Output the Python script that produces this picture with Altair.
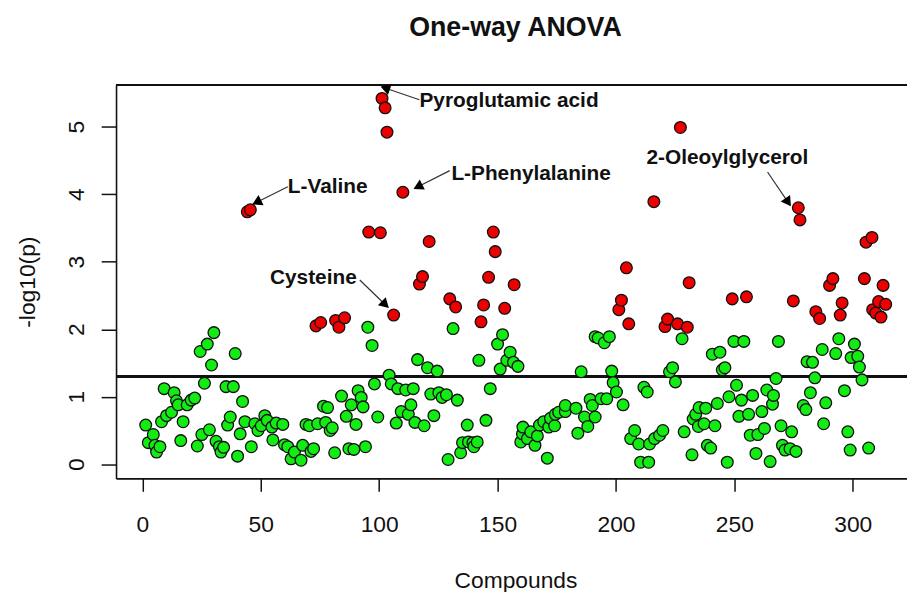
import math
import altair as alt
import pandas as pd

# ---------------- data ----------------
green_x = [30.2, 27.4, 24.4, 39.2, 29.2, 26.2, 35.3, 38.4, 9.2, 13.4, 42.3, 22.1, 20.6, 18.9, 15.1, 14.4,
           12.3, 10.2, 8.1, 17.2, 1.4, 37.1, 36.0, 43.3, 41.3, 4.6, 2.5, 5.3, 7.4, 6.0, 16.2, 23.2, 25.1,
           28.3, 31.1, 32.5, 34.3, 33.2, 40.2, 46.0,
           95.2, 97.0, 98.0, 91.1, 92.4, 84.1, 88.2, 93.2, 76.5, 78.2, 86.1, 90.2, 99.4, 51.7, 47.5, 50.2,
           52.7, 54.7, 56.5, 59.3, 48.8, 69.1, 70.5, 74.0, 77.4, 80.2, 79.3, 55.1, 60.0, 61.4, 64.2, 62.8,
           67.0, 67.7, 72.3, 71.2, 81.2, 87.2, 89.3, 94.2,
           131.2, 152.1, 150.0, 155.3, 153.9, 156.7, 158.6, 151.1, 142.1, 116.2, 120.4, 124.5, 104.2, 105.1,
           107.9, 111.2, 114.4, 146.9, 121.8, 125.2, 126.6, 128.4, 133.0, 113.4, 109.3, 112.3, 123.1, 107.2,
           115.1, 119.0, 145.1, 137.2, 135.2, 137.7, 139.6, 141.4, 134.4, 129.1, 140.0,
           192.5, 195.1, 197.2, 191.2, 185.3, 198.2, 198.8, 200.2, 203.0, 211.8, 213.2, 196.1, 193.7, 189.1,
           190.0, 183.1, 178.6, 175.8, 178.6, 174.4, 172.3, 169.5, 167.7, 174.1, 171.6, 186.7, 191.2, 188.1,
           183.9, 160.7, 164.0, 160.5, 166.8, 162.6, 159.8, 165.8, 171.0, 207.9, 206.2, 209.6, 210.4, 213.8,
           214.2,
           227.9, 249.8, 254.0, 268.6, 240.7, 243.9, 223.9, 222.6, 246.0, 244.9, 225.1, 267.6, 250.9, 263.7,
           266.5, 247.7, 253.0, 257.7, 266.1, 242.8, 237.9, 235.1, 233.7, 232.6, 237.2, 234.8, 241.8, 261.6,
           256.0, 251.9, 262.7, 259.9, 256.7, 269.7, 228.8, 219.8, 218.4, 216.3, 238.6, 240.0, 232.1, 247.0,
           259.1, 265.1, 270.3, 271.4,
           294.1, 287.1, 292.8, 300.7, 302.1, 299.3, 302.8, 280.7, 283.0, 284.0, 303.9, 282.1, 296.5, 288.6,
           279.1, 280.2, 274.2, 287.7, 297.9, 273.5, 276.0, 298.9, 306.7]
green_y = [1.95, 1.78, 1.67, 1.64, 1.47, 1.20, 1.15, 1.15, 1.12, 1.06, 0.93, 0.98, 0.95, 0.88, 0.88, 0.94,
           0.77, 0.72, 0.63, 0.63, 0.58, 0.70, 0.58, 0.63, 0.45, 0.44, 0.32, 0.28, 0.26, 0.18, 0.35, 0.27, 0.44,
           0.51, 0.34, 0.26, 0.25, 0.18, 0.12, 0.26,
           2.03, 1.76, 1.19, 1.09, 0.99, 1.01, 0.88, 0.85, 0.86, 0.84, 0.71, 0.59, 0.70, 0.72, 0.60, 0.57,
           0.65, 0.55, 0.61, 0.59, 0.50, 0.59, 0.57, 0.60, 0.62, 0.54, 0.50, 0.36, 0.29, 0.26, 0.18, 0.08,
           0.06, 0.28, 0.23, 0.19, 0.17, 0.23, 0.22, 0.26,
           2.01, 1.92, 1.78, 1.66, 1.54, 1.51, 1.45, 1.41, 1.54, 1.55, 1.43, 1.38, 1.32, 1.19,
           1.12, 1.10, 1.12, 1.12, 1.04, 1.06, 0.99, 1.03, 0.95, 0.88, 0.78, 0.74, 0.72, 0.61,
           0.62, 0.57, 0.65, 0.58, 0.32, 0.33, 0.32, 0.33, 0.17, 0.07, 0.26,
           1.87, 1.80, 1.89, 1.89, 1.37, 1.38, 1.21, 1.07, 0.88, 1.14, 1.07, 0.97, 0.97, 0.96,
           0.87, 0.83, 0.87, 0.77, 0.78, 0.74, 0.68, 0.63, 0.58, 0.57, 0.55, 0.70, 0.70, 0.56,
           0.46, 0.55, 0.48, 0.45, 0.42, 0.38, 0.33, 0.28, 0.09, 0.50, 0.38, 0.30, 0.03, 0.03,
           0.30,
           1.86, 1.82, 1.82, 1.82, 1.63, 1.66, 1.43, 1.37, 1.43, 1.40, 1.22, 1.27, 1.17, 1.10,
           1.02, 1.00, 0.95, 1.02, 0.89, 0.90, 0.83, 0.84, 0.74, 0.67, 0.60, 0.56, 0.57, 0.78,
           0.74, 0.71, 0.53, 0.44, 0.43, 0.57, 0.48, 0.50, 0.43, 0.38, 0.28, 0.24, 0.14, 0.03,
           0.16, 0.04, 0.28, 0.21,
           1.86, 1.70, 1.64, 1.78, 1.60, 1.58, 1.44, 1.52, 1.51, 1.28, 1.25, 1.06, 1.09, 0.91,
           0.87, 0.81, 0.48, 0.60, 0.48, 0.23, 0.19, 0.21, 0.24]

red_x = [44.3, 45.6, 73.3, 75.3, 81.6, 83.0, 85.4, 95.6, 100.5, 101.2, 102.5, 103.3, 106.1, 110.0,
         117.0, 118.3, 121.1, 129.8, 132.3, 143.0, 144.1, 146.2, 148.2, 149.0, 153.0, 157.0,
         201.2, 202.3, 204.4, 205.4, 216.0, 220.7, 221.8, 226.0, 227.2, 230.1, 230.9, 249.1, 255.1,
         274.9, 277.0, 277.7, 284.4, 286.0, 290.2, 291.6, 294.7, 295.5, 304.9, 305.6, 308.1, 308.4,
         309.7, 310.9, 311.9, 312.8, 313.9]
red_y = [3.74, 3.77, 2.05, 2.10, 2.13, 2.03, 2.17, 3.44, 3.43, 5.42, 5.28, 4.92, 2.21, 4.03,
         2.67, 2.78, 3.30, 2.45, 2.33, 2.11, 2.36, 2.77, 3.44, 3.15, 2.31, 2.66,
         2.29, 2.43, 2.91, 2.08, 3.89, 2.04, 2.15, 2.08, 4.99, 2.03, 2.69, 2.45, 2.48,
         2.42, 3.80, 3.62, 2.26, 2.16, 2.65, 2.75, 2.21, 2.39, 2.75, 3.29, 3.36, 2.29,
         2.24, 2.41, 2.18, 2.65, 2.37]

tick_x = [0, 50, 100, 150, 200, 250, 300]
tick_y = [0, 1, 2, 3, 4, 5]
threshold = 1.3  # -log10(0.05)

label_names = ["Pyroglutamic acid", "L-Phenylalanine", "L-Valine", "Cysteine", "2-Oleoylglycerol"]
label_x = [117.0, 130.5, 61.4, 53.9, 212.9]
label_y = [5.38, 4.30, 4.10, 2.76, 4.54]
arrow_x0 = [117.0, 129.8, 61.4, 91.8, 264.0]
arrow_y0 = [5.40, 4.35, 4.11, 2.73, 4.33]
arrow_x1 = [101.2, 115.1, 47.0, 103.6, 273.5]
arrow_y1 = [5.59, 4.09, 3.86, 2.33, 3.84]

# ---------------- layout ----------------
W, H = 798, 397
XMIN, XMAX = -11.13, 322.9
YMIN, YMAX = -0.21, 5.62
FONT = "Liberation Sans"
GREEN, RED = "#12ec12", "#ec0000"

sx = W / (XMAX - XMIN)
sy = H / (YMAX - YMIN)

pts = pd.DataFrame({
    "idx": green_x + red_x,
    "p": green_y + red_y,
    "grp": ["ns"] * len(green_x) + ["sig"] * len(red_x),
}).sort_values("idx")

lab = pd.DataFrame({"name": label_names, "x": label_x, "y": label_y})
arr = pd.DataFrame({"x0": arrow_x0, "y0": arrow_y0, "x1": arrow_x1, "y1": arrow_y1})

heads = []
for x0, y0, x1, y1 in zip(arrow_x0, arrow_y0, arrow_x1, arrow_y1):
    dxp = (x1 - x0) * sx
    dyp = -(y1 - y0) * sy
    L = math.hypot(dxp, dyp)
    ux, uy = dxp / L, dyp / L
    ang = math.degrees(math.atan2(ux, -uy)) % 360
    heads.append({"x": x1 - 5 * ux / sx, "y": y1 + 5 * uy / sy, "ang": ang})
hd = pd.DataFrame(heads)

xscale = alt.Scale(domain=[XMIN, XMAX], nice=False, zero=False)
yscale = alt.Scale(domain=[YMIN, YMAX], nice=False, zero=False)

xaxis = alt.Axis(values=tick_x, format="d", grid=False, domain=True, domainColor="#111", domainWidth=1.6,
                 ticks=True, tickSize=13, tickWidth=1.5, tickColor="#111",
                 labelFont=FONT, labelFontSize=23, labelColor="#111", labelPadding=23, labelFlush=False,
                 title="Compounds", titleFont=FONT, titleFontSize=23, titleFontWeight="normal",
                 titleColor="#111", titleX=403, titleY=103, titleAlign="center", titleBaseline="middle")
yaxis = alt.Axis(values=tick_y, format="d", grid=False, domain=True, domainColor="#111", domainWidth=1.6,
                 ticks=True, tickSize=15, tickWidth=1.5, tickColor="#111",
                 labelFont=FONT, labelFontSize=23, labelColor="#111", labelPadding=25,
                 labelAngle=270, labelAlign="center", labelBaseline="middle", labelFlush=False,
                 title="-log10(p)", titleFont=FONT, titleFontSize=23, titleFontWeight="normal",
                 titleColor="#111", titleAngle=270, titleX=-89, titleY=198.5,
                 titleAlign="center", titleBaseline="middle")

points = alt.Chart(pts).mark_circle(size=140, opacity=1, stroke="#111", strokeWidth=1.3).encode(
    x=alt.X("idx:Q", scale=xscale, axis=xaxis),
    y=alt.Y("p:Q", scale=yscale, axis=yaxis),
    color=alt.Color("grp:N", scale=alt.Scale(domain=["ns", "sig"], range=[GREEN, RED]), legend=None),
)

thr = alt.Chart(pts).mark_rule(color="#111", strokeWidth=1.4).encode(y=alt.datum(threshold))

top = alt.Chart(pts).mark_rule(color="#111", strokeWidth=1.6).encode(
    x=alt.value(0), x2=alt.value(W), y=alt.value(0))

arrows = alt.Chart(arr).mark_rule(color="#333", strokeWidth=1.2).encode(
    x="x0:Q", y="y0:Q", x2="x1:Q", y2="y1:Q")

arrowheads = alt.Chart(hd).mark_point(shape="triangle", filled=True, color="#000", opacity=1,
                                      size=130).encode(
    x="x:Q", y="y:Q", angle=alt.Angle("ang:Q", scale=None))

labels = alt.Chart(lab).mark_text(align="left", baseline="middle", font=FONT, fontSize=21,
                                  fontWeight="bold", color="#111").encode(
    x="x:Q", y="y:Q", text="name:N")

chart = alt.layer(thr, top, points, arrows, arrowheads, labels).properties(
    width=W, height=H,
    title=alt.TitleParams("One-way ANOVA", font=FONT, fontSize=27, fontWeight="bold", color="#111",
                          anchor="middle", frame="group", dx=4, baseline="alphabetic", offset=22),
    autosize=alt.AutoSizeParams(type="none"),
    padding={"left": 109, "top": 75, "right": 0, "bottom": 112},
).configure_view(stroke=None).configure(background="white")

chart.save("out.html", embed_options={"renderer": "svg", "actions": False})
